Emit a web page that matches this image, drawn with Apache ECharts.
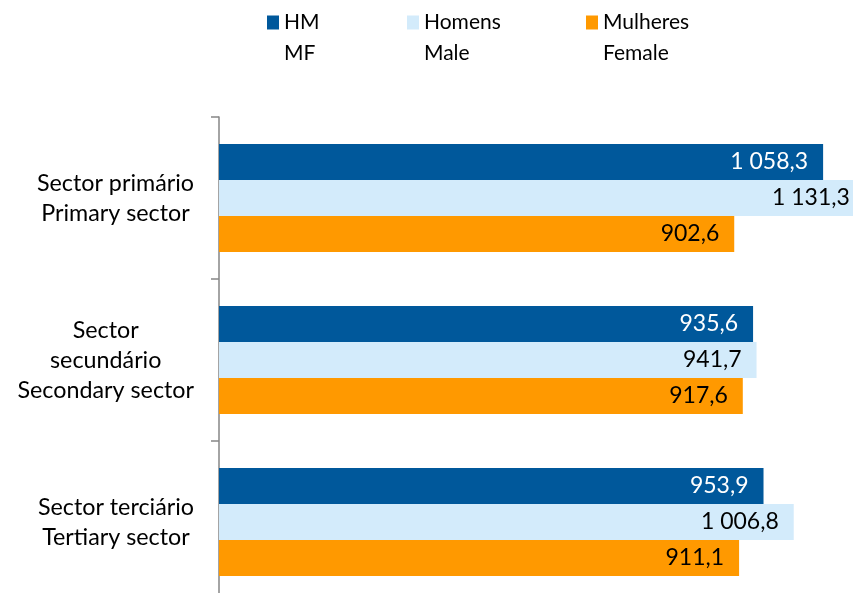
<!DOCTYPE html>
<html>
<head>
<meta charset="utf-8">
<script src="https://cdn.jsdelivr.net/npm/echarts@6/dist/echarts.min.js"></script>
<style>
  html, body { margin: 0; padding: 0; background: #fff; }
  #main { width: 853px; height: 593px; }
</style>
</head>
<body>
<div id="main"></div>
<script>
// categorias (de cima para baixo)
var categories = [
    'Sector primário\nPrimary sector',
    'Sector\nsecundário\nSecondary sector',
    'Sector terciário\nTertiary sector'
];
var seriesNames = ['HM', 'Homens', 'Mulheres'];
var legendLabels = ['HM\nMF', 'Homens\nMale', 'Mulheres\nFemale'];
var valuesHM = [1058.3, 935.6, 953.9];
var valuesHomens = [1131.3, 941.7, 1006.8];
var valuesMulheres = [902.6, 917.6, 911.1];

var colors = ['#00589b', '#d3ebfb', '#ff9900'];
var labelColors = ['#ffffff', '#000000', '#000000'];
var legendLeft = [267, 407, 586];
var font = 'Lato, "Open Sans", sans-serif';

// 1058.3 -> "1 058,3"
function fmt(v) {
    var parts = v.toFixed(1).split('.');
    var intPart = parts[0].replace(/\B(?=(\d{3})+(?!\d))/g, ' ');
    return intPart + ',' + parts[1];
}

var myChart = echarts.init(document.getElementById('main'));
var allValues = [valuesHM, valuesHomens, valuesMulheres];

var option = {
    backgroundColor: '#ffffff',
    animation: false,
    legend: seriesNames.map(function(name, i) {
        return {
            data: [{ name: name, icon: 'rect' }],
            left: legendLeft[i],
            top: -24,
            padding: 0,
            itemWidth: 12,
            itemHeight: 14,
            itemGap: 0,
            selectedMode: false,
            // linha vazia em cima para o ícone ficar alinhado com a 1ª linha
            formatter: function() { return ' \n' + legendLabels[i]; },
            textStyle: {
                fontFamily: font,
                fontSize: 21,
                color: '#000',
                lineHeight: 31
            }
        };
    }),
    grid: {
        left: 219,
        top: 117,
        right: -51,
        bottom: -10,
        containLabel: false,
        outerBoundsMode: 'none'
    },
    xAxis: {
        type: 'value',
        min: 0,
        max: 1200,
        show: false
    },
    yAxis: {
        type: 'category',
        inverse: true,
        data: categories,
        axisLine: { show: true, lineStyle: { color: '#868686', width: 1.5 } },
        axisTick: { show: true, length: 8, lineStyle: { color: '#868686', width: 1.5 } },
        axisLabel: {
            margin: 25,
            formatter: function(value) {
                return value.split('\n').map(function(l) { return '{c|' + l + '}'; }).join('\n');
            },
            rich: {
                c: {
                    align: 'center',
                    fontFamily: font,
                    fontSize: 23.3,
                    lineHeight: 30,
                    color: '#000'
                }
            }
        }
    },
    series: seriesNames.map(function(name, i) {
        return {
            name: name,
            type: 'bar',
            data: allValues[i],
            barWidth: 36,
            barGap: '0%',
            itemStyle: { color: colors[i] },
            label: {
                show: true,
                position: 'insideRight',
                distance: 15,
                color: labelColors[i],
                fontFamily: font,
                fontSize: 23,
                formatter: function(p) { return fmt(p.value); }
            }
        };
    })
};

myChart.setOption(option);
</script>
</body>
</html>
